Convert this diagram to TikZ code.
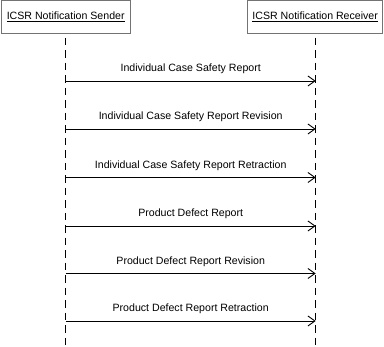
\documentclass[tikz,border=0pt]{standalone}
\usepackage{fontspec}
\setmainfont{Liberation Sans}
\usetikzlibrary{arrows.meta}
\begin{document}
\begin{tikzpicture}[x=1pt,y=-1pt,
  actor/.style={draw=gray!90!black,line width=1pt,fill=white,minimum height=33pt,inner sep=0pt,font=\fontsize{10.6}{12}\selectfont},
  lifeline/.style={line width=0.9pt,dash pattern=on 7.5pt off 5pt},
  msg/.style={line width=0.9pt,-{Straight Barb[length=7pt,width=10pt,line width=0.9pt]}},
  msglabel/.style={font=\fontsize{10.6}{12}\selectfont,inner sep=0pt}]
  \useasboundingbox (0,0) rectangle (384,347);
  % participants
  \node[actor,minimum width=129pt] (sender) at (65.7,17) {\underline{ICSR Notification Sender}};
  \node[actor,minimum width=135pt] (receiver) at (315.2,17) {\underline{ICSR Notification Receiver}};
  % lifelines
  \coordinate (sendEnd) at (65.7,347);
  \coordinate (recvEnd) at (315.7,347);
  \draw[lifeline] (65.7,38) -- (sendEnd);
  \draw[lifeline] (315.7,38) -- (recvEnd);
  % messages
  \foreach \i/\y/\t in {1/81/Individual Case Safety Report,
                        2/129/Individual Case Safety Report Revision,
                        3/177.5/Individual Case Safety Report Retraction,
                        4/226/Product Defect Report,
                        5/273.5/Product Defect Report Revision,
                        6/321/Product Defect Report Retraction}{
    \coordinate (s\i) at (65.7,\y);
    \coordinate (r\i) at (315.7,\y);
    \draw[msg] (s\i) -- (r\i);
    \node[msglabel] (m\i) at (190.7,\y-12) {\t};
  }
\end{tikzpicture}
\end{document}
